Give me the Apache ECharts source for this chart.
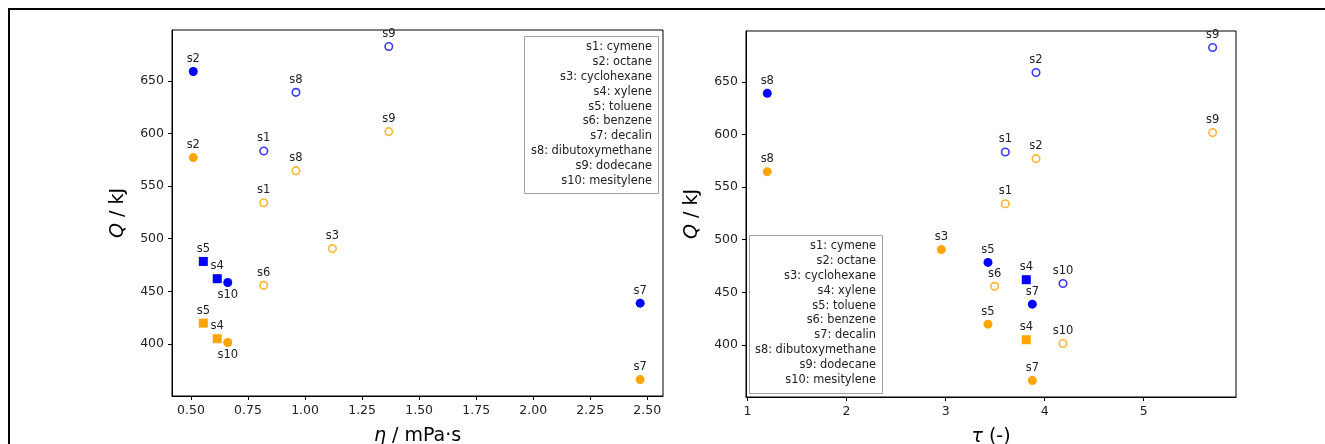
<!DOCTYPE html>
<html>
<head>
<meta charset="utf-8">
<script src="https://cdn.jsdelivr.net/npm/echarts@6/dist/echarts.min.js"></script>
<style>
html,body{margin:0;padding:0;background:#fff;}
#chart{width:1325px;height:444px;}
</style>
</head>
<body>
<div id="chart"></div>
<script>
// ---- data ----
const labels = ['s1','s2','s3','s4','s5','s6','s7','s8','s9','s10'];
const solventNames = ['cymene','octane','cyclohexane','xylene','toluene','benzene','decalin','dibutoxymethane','dodecane','mesitylene'];
const eta = [0.819, 0.510, 1.120, 0.615, 0.554, 0.819, 2.469, 0.960, 1.367, 0.661];
const tau = [3.603, 3.913, 2.957, 3.815, 3.428, 3.495, 3.876, 1.199, 5.697, 4.186];
const qBlue = [583.3, 658.8, null, 462.0, 478.4, null, 438.8, 639.0, 682.5, 458.4];
const qOrange = [534.1, 577.0, 490.6, 405.0, 419.8, 455.7, 366.2, 564.6, 601.7, 401.4];
const yTicks = [400, 450, 500, 550, 600, 650];
const etaTicks = [0.5, 0.75, 1.0, 1.25, 1.5, 1.75, 2.0, 2.25, 2.5];
const tauTicks = [1, 2, 3, 4, 5];

// marker appearance per solvent ('o' circle, 's' square; 1 filled, 0 hollow)
const leftShape   = ['o','o','o','s','s','o','o','o','o','o'];
const leftFilled  = [0,1,0,1,1,0,1,0,0,1];
const leftBelow   = [0,0,0,0,0,0,0,0,0,1];
const rightShape  = ['o','o','o','s','o','o','o','o','o','o'];
const rightFilled = [0,0,1,1,1,0,1,1,0,0];
const rightBelow  = [0,0,0,0,0,0,0,0,0,0];

const BLUE = '#0000ff', ORANGE = '#ffa500';
const BLUE_EDGE = 'rgba(0,0,255,0.78)', ORANGE_EDGE = 'rgba(255,165,0,0.8)';
const FONT = 'DejaVu Sans';

function buildData(xs, ys, color, edge, shapes, filled, below) {
  const out = [];
  for (let i = 0; i < labels.length; i++) {
    if (ys[i] == null) continue;
    const f = filled[i] === 1;
    out.push({
      value: [xs[i], ys[i]],
      name: labels[i],
      symbol: shapes[i] === 's' ? 'rect' : 'circle',
      symbolSize: f ? 9 : 7.5,
      itemStyle: f ? {color: color, borderWidth: 0, opacity: 1}
                   : {color: 'rgba(255,255,255,0)', borderColor: edge, borderWidth: 1.6, opacity: 1},
      label: {position: below[i] ? 'bottom' : 'top'}
    });
  }
  return out;
}

const G1 = {left: 172, top: 30, width: 491, height: 366};
const G2 = {left: 746, top: 31, width: 490, height: 366};

function scatter(xi, xs, ys, color, edge, shapes, filled, below) {
  return {
    type: 'scatter', xAxisIndex: xi, yAxisIndex: xi,
    data: buildData(xs, ys, color, edge, shapes, filled, below),
    label: {show: true, formatter: p => p.name, color: '#222', fontSize: 11.5, fontFamily: FONT, distance: 2},
    emphasis: {disabled: true}, animation: false
  };
}

const axisCommon = {
  type: 'value', splitLine: {show: false},
  axisLine: {show: true, onZero: false, lineStyle: {color: '#000', width: 1}},
  axisTick: {show: true, length: 4, lineStyle: {color: '#000'}},
  axisLabel: {color: '#222', fontSize: 12.5, fontFamily: FONT, margin: 8}
};
const nameStyle = {fontSize: 19, fontFamily: FONT, color: '#000', rich: {i: {fontStyle: 'italic', fontSize: 19, fontFamily: FONT, color: '#000'}}};

function xAx(gi, min, max, ticks, fmt, name) {
  return Object.assign({}, axisCommon, {
    gridIndex: gi, min: min, max: max,
    axisTick: Object.assign({}, axisCommon.axisTick, {customValues: ticks}),
    axisLabel: Object.assign({}, axisCommon.axisLabel, {customValues: ticks, formatter: fmt}),
    name: name, nameLocation: 'middle', nameGap: 31,
    nameTextStyle: nameStyle
  });
}
function yAx(gi) {
  return Object.assign({}, axisCommon, {
    gridIndex: gi, min: 350.6, max: 698.2,
    axisTick: Object.assign({}, axisCommon.axisTick, {customValues: yTicks}),
    axisLabel: Object.assign({}, axisCommon.axisLabel, {customValues: yTicks, formatter: v => String(v)}),
    name: '{i|Q} / kJ', nameLocation: 'middle', nameGap: 44,
    nameTextStyle: nameStyle
  });
}

function legendGraphic(x, y, w, h) {
  const lines = labels.map((l, i) => l + ': ' + solventNames[i]);
  return [{
    type: 'rect', shape: {x: x + 0.5, y: y + 0.5, width: w, height: h},
    style: {fill: '#fff', stroke: '#a0a0a0', lineWidth: 1}, z: 100
  }, {
    type: 'text', x: x + w - 6, y: y + 4, z: 101,
    style: {text: lines.join('\n'), align: 'right', verticalAlign: 'top', fontSize: 11.4, fontFamily: FONT, fill: '#222', lineHeight: 14.8}
  }];
}

const gridCommon = {show: true, borderColor: '#000', borderWidth: 1, backgroundColor: 'transparent', containLabel: false, outerBoundsMode: 'none'};

const chart = echarts.init(document.getElementById('chart'), null, {renderer: 'canvas'});
chart.setOption({
  animation: false,
  backgroundColor: '#fff',
  grid: [Object.assign({}, gridCommon, G1), Object.assign({}, gridCommon, G2)],
  xAxis: [xAx(0, 0.4167, 2.569, etaTicks, v => v.toFixed(2), '{i|η} / mPa·s'),
          xAx(1, 0.984, 5.933, tauTicks, v => String(v), '{i|τ} (-)')],
  yAxis: [yAx(0), yAx(1)],
  series: [
    scatter(0, eta, qBlue, BLUE, BLUE_EDGE, leftShape, leftFilled, leftBelow),
    scatter(0, eta, qOrange, ORANGE, ORANGE_EDGE, leftShape, leftFilled, leftBelow),
    scatter(1, tau, qBlue, BLUE, BLUE_EDGE, rightShape, rightFilled, rightBelow),
    scatter(1, tau, qOrange, ORANGE, ORANGE_EDGE, rightShape, rightFilled, rightBelow)
  ],
  graphic: [
    {type: 'rect', shape: {x: 9, y: 9, width: 1340, height: 460}, style: {fill: 'none', stroke: '#000', lineWidth: 2}, z: 200}
  ].concat(legendGraphic(524, 36, 134, 157)).concat(legendGraphic(749, 235, 133, 158))
});
</script>
</body>
</html>
